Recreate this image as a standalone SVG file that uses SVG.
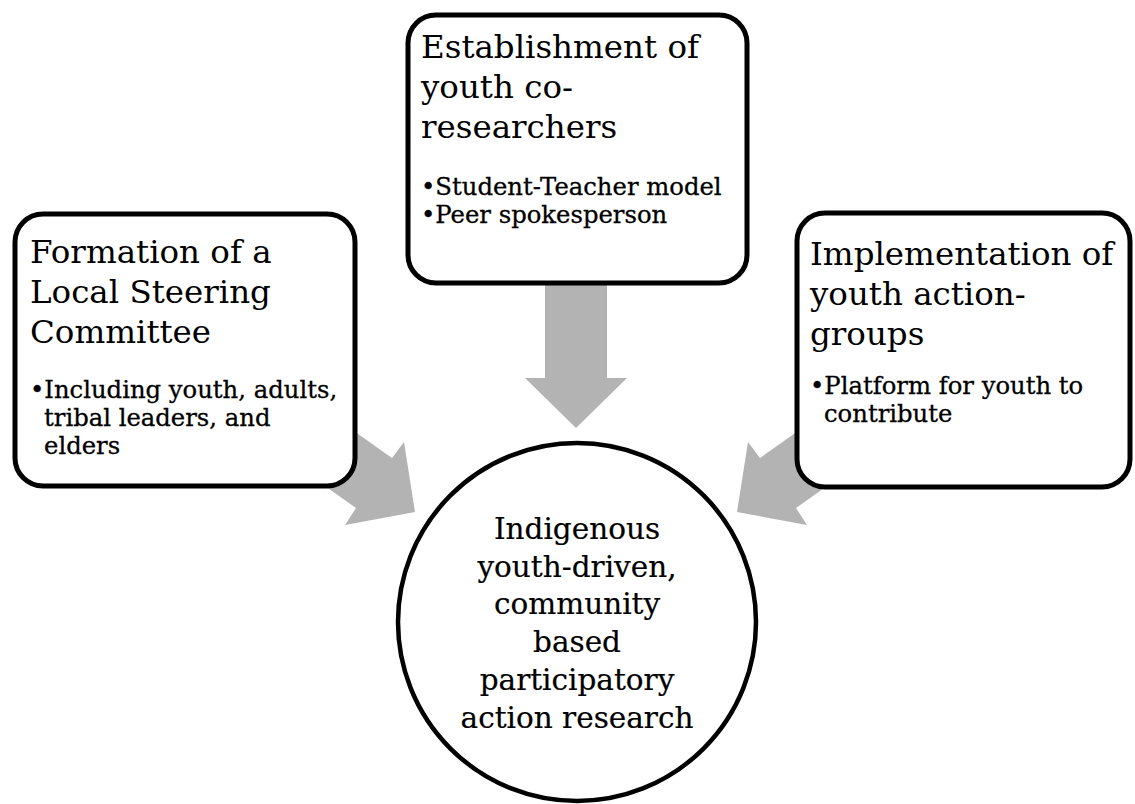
<svg xmlns="http://www.w3.org/2000/svg" width="1135" height="804" viewBox="0 0 1135 804">
  <style>
    .box { fill: #ffffff; stroke: #000000; stroke-width: 5; }
    .hub { fill: #ffffff; stroke: #000000; stroke-width: 4.5; }
    .arrow { fill: #b3b3b3; stroke: none; }
    .title { font-family: "DejaVu Serif", "Liberation Serif", serif; font-size: 32.5px; fill: #000000; }
    .bullet { font-family: "DejaVu Serif", "Liberation Serif", serif; font-size: 24.3px; fill: #000000; stroke: #000000; stroke-width: 0.3; }
    .center { font-family: "DejaVu Serif", "Liberation Serif", serif; font-size: 29.5px; fill: #000000; stroke: #000000; stroke-width: 0.2; text-anchor: middle; }
  </style>
  <rect width="1135" height="804" fill="#ffffff"/>

  <!-- block arrows, drawn first so the boxes cover their tails -->
  <g id="connectors">
    <polygon class="arrow" points="545,250 607,250 607,378 627,378 576,428 525,378 545,378"/>
    <polygon class="arrow" points="286,383 392,458 404,442 415,512 345,525 356,508 250,433"/>
    <polygon class="arrow" points="866,383 760,458 748,442 737,512 807,525 796,508 902,433"/>
  </g>

  <g id="node-steering">
    <rect class="box" x="15" y="214" width="340" height="272" rx="28" ry="28"/>
    <text class="title" x="30" y="263">Formation of a</text>
    <text class="title" x="30" y="303">Local Steering</text>
    <text class="title" x="30" y="343">Committee</text>
    <text class="bullet" x="30" y="398">•Including youth, adults,</text>
    <text class="bullet" x="44" y="426">tribal leaders, and</text>
    <text class="bullet" x="44" y="454">elders</text>
  </g>

  <g id="node-coresearchers">
    <rect class="box" x="408" y="15" width="339" height="268" rx="28" ry="28"/>
    <text class="title" x="421" y="58">Establishment of</text>
    <text class="title" x="421" y="98">youth co-</text>
    <text class="title" x="421" y="138">researchers</text>
    <text class="bullet" x="421" y="195">•Student-Teacher model</text>
    <text class="bullet" x="421" y="223">•Peer spokesperson</text>
  </g>

  <g id="node-actiongroups">
    <rect class="box" x="797" y="213" width="333" height="274" rx="28" ry="28"/>
    <text class="title" x="810" y="265">Implementation of</text>
    <text class="title" x="810" y="305">youth action-</text>
    <text class="title" x="810" y="345">groups</text>
    <text class="bullet" x="810" y="394">•Platform for youth to</text>
    <text class="bullet" x="824" y="422">contribute</text>
  </g>

  <g id="node-research">
    <circle class="hub" cx="577" cy="622" r="179"/>
    <text class="center" x="577" y="539">Indigenous</text>
    <text class="center" x="577" y="577">youth-driven,</text>
    <text class="center" x="577" y="614">community</text>
    <text class="center" x="577" y="652">based</text>
    <text class="center" x="577" y="690">participatory</text>
    <text class="center" x="577" y="728">action research</text>
  </g>
</svg>
